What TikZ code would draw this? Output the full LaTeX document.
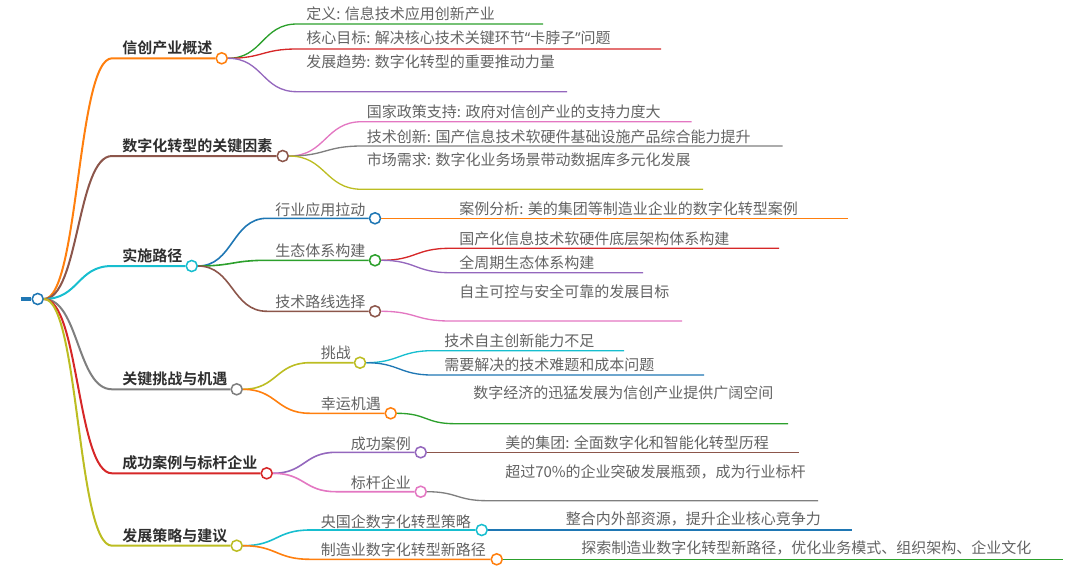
\documentclass[tikz,border=0pt]{standalone}
\usepackage{fontspec}
\setmainfont{Noto Sans CJK SC}[BoldFont={Noto Sans CJK SC Bold}]
\newfontfamily\quotefont{Noto Sans}
\definecolor{cblue}{HTML}{1F77B4}
\definecolor{corange}{HTML}{FF7F0E}
\definecolor{cgreen}{HTML}{2CA02C}
\definecolor{cred}{HTML}{D62728}
\definecolor{cpurple}{HTML}{9467BD}
\definecolor{cbrown}{HTML}{8C564B}
\definecolor{cpink}{HTML}{E377C2}
\definecolor{cgray}{HTML}{7F7F7F}
\definecolor{colive}{HTML}{BCBD22}
\definecolor{ccyan}{HTML}{17BECF}
\definecolor{txtgray}{HTML}{636363}
\definecolor{catgray}{HTML}{2E2E2E}
\begin{document}
\begin{tikzpicture}[x=0.75pt,y=-0.75pt,
  leaf/.style={anchor=west, inner sep=0pt, text=txtgray, font=\fontsize{11.25}{13}\selectfont},
  cat/.style={anchor=west, inner sep=0pt, text=catgray, font=\fontsize{11.25}{13}\selectfont\bfseries},
  dot/.style={circle, draw=#1, fill=white, line width=1.15pt, minimum size=8.3pt, inner sep=0pt},
  bA/.style={draw=#1, line width=1.5pt},
  bB/.style={draw=#1, line width=1.2pt},
  bC/.style={draw=#1, line width=1.0pt}]
\useasboundingbox (0,0) rectangle (1080,571);

% ---------- coordinates ----------
\coordinate (stub) at (20.5,299);
\coordinate (hc1) at (112,58.3);
\coordinate (hc2) at (112,156);
\coordinate (hc3) at (112,266);
\coordinate (hc4) at (112,389.3);
\coordinate (hc5) at (112,473.3);
\coordinate (hc6) at (112,545.7);

\coordinate (h11) at (297,24);   \coordinate (e11) at (543,24);
\coordinate (h12) at (297,49);   \coordinate (e12) at (661,49);
\coordinate (h13) at (297,91.7); \coordinate (e13) at (567,91.7);

\coordinate (h21) at (362,121.7); \coordinate (e21) at (691.7,121.7);
\coordinate (h22) at (362,146);   \coordinate (e22) at (782.7,146);
\coordinate (h23) at (362,189.3); \coordinate (e23) at (703,189.3);

\coordinate (h31) at (267,218.3);
\coordinate (h32) at (267,260.3);
\coordinate (h33) at (267,311.3);
\coordinate (e311) at (848,218.3);
\coordinate (h321) at (450,248.3); \coordinate (e321) at (779,248.3);
\coordinate (h322) at (450,272.7); \coordinate (e322) at (643,272.7);
\coordinate (h331) at (450,321);   \coordinate (e331) at (682,321);

\coordinate (h41) at (310,362.7);
\coordinate (h42) at (310,413.3);
\coordinate (h411) at (432,350.7); \coordinate (e411) at (624,350.7);
\coordinate (h412) at (432,375);   \coordinate (e412) at (704,375);
\coordinate (h421) at (455,423.7); \coordinate (e421) at (788,423.7);

\coordinate (h51) at (336,452.3);
\coordinate (h52) at (336,491.7);
\coordinate (e511) at (799,452.3);
\coordinate (h521) at (487,500.7); \coordinate (e521) at (818,500.7);

\coordinate (h61) at (310,530);
\coordinate (h62) at (310,559.3);
\coordinate (e611) at (852,530);
\coordinate (e621) at (1063,559.3);

% ---------- circles ----------
\node[dot=cblue] (root) at (37.7,299) {};
\node[dot=corange] (c1) at (221.7,58.3) {};
\node[dot=cbrown] (c2) at (282.7,156) {};
\node[dot=ccyan] (c3) at (191.7,266) {};
\node[dot=cgray] (c4) at (236.7,389.3) {};
\node[dot=cred] (c5) at (266.7,473.3) {};
\node[dot=colive] (c6) at (236.7,545.7) {};

\node[dot=cblue] (s31) at (375,218.3) {};
\node[dot=cgreen] (s32) at (375,260.3) {};
\node[dot=cbrown] (s33) at (375,311.3) {};
\node[dot=colive] (s41) at (360,362.7) {};
\node[dot=corange] (s42) at (390.7,413.3) {};
\node[dot=cpurple] (s51) at (420.7,452.3) {};
\node[dot=cpink] (s52) at (420.7,491.7) {};
\node[dot=ccyan] (s61) at (481.7,530) {};
\node[dot=corange] (s62) at (496.7,559.3) {};

% ---------- connectors ----------
\draw[cblue, line width=2.8pt] (stub) -- (root.west);

\draw[bA=corange] (root.east) .. controls +(35,0) and +(-35,0) .. (hc1) -- (c1);
\draw[bA=cbrown]  (root.east) .. controls +(35,0) and +(-35,0) .. (hc2) -- (c2);
\draw[bA=ccyan]   (root.east) .. controls +(35,0) and +(-35,0) .. (hc3) -- (c3);
\draw[bA=cgray]   (root.east) .. controls +(35,0) and +(-35,0) .. (hc4) -- (c4);
\draw[bA=cred]    (root.east) .. controls +(35,0) and +(-35,0) .. (hc5) -- (c5);
\draw[bA=colive]  (root.east) .. controls +(35,0) and +(-35,0) .. (hc6) -- (c6);

\draw[bC=cgreen]  (c1.east) .. controls +(35,0) and +(-35,0) .. (h11) -- (e11);
\draw[bC=cred]    (c1.east) .. controls +(35,0) and +(-35,0) .. (h12) -- (e12);
\draw[bC=cpurple] (c1.east) .. controls +(35,0) and +(-35,0) .. (h13) -- (e13);

\draw[bC=cpink]   (c2.east) .. controls +(37,0) and +(-37,0) .. (h21) -- (e21);
\draw[bC=cgray]   (c2.east) .. controls +(37,0) and +(-37,0) .. (h22) -- (e22);
\draw[bC=colive]  (c2.east) .. controls +(37,0) and +(-37,0) .. (h23) -- (e23);

\draw[bB=cblue]   (c3.east) .. controls +(35,0) and +(-35,0) .. (h31) -- (s31);
\draw[bB=cgreen]  (c3.east) .. controls +(35,0) and +(-35,0) .. (h32) -- (s32);
\draw[bB=cbrown]  (c3.east) .. controls +(35,0) and +(-35,0) .. (h33) -- (s33);
\draw[bC=corange] (s31) -- (e311);
\draw[bC=cred]    (s32.east) .. controls +(35,0) and +(-35,0) .. (h321) -- (e321);
\draw[bC=cpurple] (s32.east) .. controls +(35,0) and +(-35,0) .. (h322) -- (e322);
\draw[bC=cpink]   (s33.east) .. controls +(35,0) and +(-35,0) .. (h331) -- (e331);

\draw[bB=colive]  (c4.east) .. controls +(34,0) and +(-34,0) .. (h41) -- (s41);
\draw[bB=corange] (c4.east) .. controls +(34,0) and +(-34,0) .. (h42) -- (s42);
\draw[bC=ccyan]   (s41.east) .. controls +(32,0) and +(-32,0) .. (h411) -- (e411);
\draw[bC=cblue]   (s41.east) .. controls +(32,0) and +(-32,0) .. (h412) -- (e412);
\draw[bC=cgreen]  (s42.east) .. controls +(30,0) and +(-30,0) .. (h421) -- (e421);

\draw[bB=cpurple] (c5.east) .. controls +(32,0) and +(-32,0) .. (h51) -- (s51);
\draw[bB=cpink]   (c5.east) .. controls +(32,0) and +(-32,0) .. (h52) -- (s52);
\draw[bC=cbrown]  (s51) -- (e511);
\draw[bC=cgray]   (s52.east) .. controls +(30,0) and +(-30,0) .. (h521) -- (e521);

\draw[bB=ccyan]   (c6.east) .. controls +(34,0) and +(-34,0) .. (h61) -- (s61);
\draw[bB=corange] (c6.east) .. controls +(34,0) and +(-34,0) .. (h62) -- (s62);
\draw[bC=cblue]   (s61) -- (e611);
\draw[bC=cgreen]  (s62) -- (e621);

% ---------- texts ----------
\node[cat] (tc1) at (122,48.3) {信创产业概述};
\node[cat] (tc2) at (122,146) {数字化转型的关键因素};
\node[cat] (tc3) at (122,256) {实施路径};
\node[cat] (tc4) at (122,379.3) {关键挑战与机遇};
\node[cat] (tc5) at (122,463.3) {成功案例与标杆企业};
\node[cat] (tc6) at (122,535.7) {发展策略与建议};

\node[leaf] (t11) at (306,13.3) {定义: 信息技术应用创新产业};
\node[leaf] (t12) at (306,38.3) {核心目标: 解决核心技术关键环节{\quotefont “}卡脖子{\quotefont ”}问题};
\node[leaf] (t13) at (306,62) {发展趋势: 数字化转型的重要推动力量};

\node[leaf] (t21) at (366.7,111.7) {国家政策支持: 政府对信创产业的支持力度大};
\node[leaf] (t22) at (366.7,136.7) {技术创新: 国产信息技术软硬件基础设施产品综合能力提升};
\node[leaf] (t23) at (366.7,160) {市场需求: 数字化业务场景带动数据库多元化发展};

\node[leaf] (t31) at (275,209.3) {行业应用拉动};
\node[leaf] (t32) at (275,251) {生态体系构建};
\node[leaf] (t33) at (275,301.7) {技术路线选择};
\node[leaf] (t311) at (459,208.3) {案例分析: 美的集团等制造业企业的数字化转型案例};
\node[leaf] (t321) at (459,238.3) {国产化信息技术软硬件底层架构体系构建};
\node[leaf] (t322) at (459,262.7) {全周期生态体系构建};
\node[leaf] (t331) at (459,291.7) {自主可控与安全可靠的发展目标};

\node[leaf] (t41) at (320.7,353.3) {挑战};
\node[leaf] (t42) at (320.7,404) {幸运机遇};
\node[leaf] (t411) at (444,340.7) {技术自主创新能力不足};
\node[leaf] (t412) at (444,365) {需要解决的技术难题和成本问题};
\node[leaf] (t421) at (473,393) {数字经济的迅猛发展为信创产业提供广阔空间};

\node[leaf] (t51) at (350.7,443.3) {成功案例};
\node[leaf] (t52) at (350.7,482.3) {标杆企业};
\node[leaf] (t511) at (505,443) {美的集团: 全面数字化和智能化转型历程};
\node[leaf] (t521) at (505,472.3) {超过70\%的企业突破发展瓶颈，成为行业标杆};

\node[leaf] (t61) at (320.7,521.7) {央国企数字化转型策略};
\node[leaf] (t62) at (320.7,550) {制造业数字化转型新路径};
\node[leaf] (t611) at (565.7,519.3) {整合内外部资源，提升企业核心竞争力};
\node[leaf] (t621) at (581,548.3) {探索制造业数字化转型新路径，优化业务模式、组织架构、企业文化};
\end{tikzpicture}
\end{document}
